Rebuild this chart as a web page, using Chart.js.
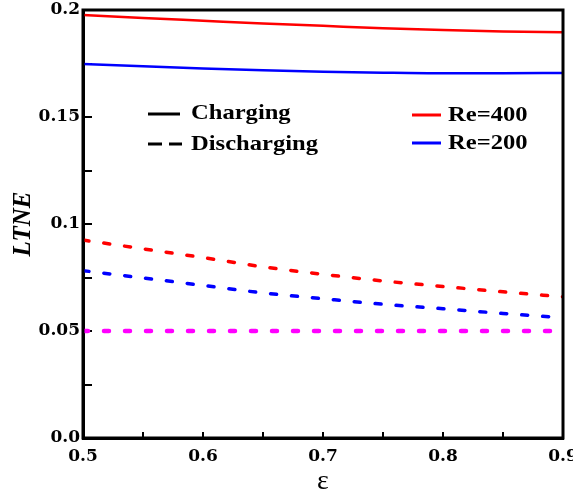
<!DOCTYPE html>
<html>
<head>
<meta charset="utf-8">
<script src="https://cdn.jsdelivr.net/npm/chart.js@4"></script>
<style>
html,body{margin:0;padding:0;background:#fff;}
#wrap{width:573px;height:497px;}
</style>
</head>
<body>
<div id="wrap"><canvas id="c" width="573" height="497"></canvas></div>
<script>
// ---- data ----
const eps = [0.5, 0.55, 0.6, 0.65, 0.7, 0.75, 0.8, 0.85, 0.9];
const chargingRe400 = [0.1977, 0.1963, 0.1950, 0.1937, 0.1926, 0.1915, 0.1906, 0.1900, 0.1896];
const chargingRe200 = [0.1748, 0.1737, 0.1727, 0.1719, 0.1712, 0.1707, 0.1704, 0.1704, 0.1706];
const dischargingRe400 = [0.0925, 0.0884, 0.0843, 0.0800, 0.0765, 0.0734, 0.0708, 0.0683, 0.0660];
const dischargingRe200 = [0.0782, 0.0748, 0.0713, 0.0678, 0.0651, 0.0625, 0.0604, 0.0582, 0.0562];
const reference = [0.05, 0.05, 0.05, 0.05, 0.05, 0.05, 0.05, 0.05, 0.05];

const xTickValues = [0.5, 0.6, 0.7, 0.8, 0.9];
const xTickLabels = ['0.5', '0.6', '0.7', '0.8', '0.9'];
const yTickValues = [0, 0.05, 0.1, 0.15, 0.2];
const yTickLabels = ['0.0', '0.05', '0.1', '0.15', '0.2'];

const legendStyle = ['Charging', 'Discharging'];
const legendSeries = ['Re=400', 'Re=200'];
const xTitle = 'ε';
const yTitle = 'LTNE';

function pts(ys){ return eps.map((x,i)=>({x:x, y:ys[i]})); }
function findLabel(vals, labels, v){
  for (let i=0;i<vals.length;i++) if (Math.abs(vals[i]-v) < 1e-6) return labels[i];
  return '';
}

const SERIF = '"Liberation Serif", "Times New Roman", serif';
const TICKFONT = '"DejaVu Serif", serif';

const framePlugin = {
  id: 'frame',
  afterDraw(chart){
    const ctx = chart.ctx, a = chart.chartArea;
    ctx.save();
    ctx.strokeStyle = '#000';
    ctx.lineWidth = 3;
    ctx.strokeRect(a.left, a.top, a.right - a.left, a.bottom - a.top);
    // legend
    ctx.lineWidth = 3;
    ctx.lineCap = 'butt';
    ctx.strokeStyle = '#000';
    ctx.beginPath(); ctx.moveTo(148, 114); ctx.lineTo(180, 114); ctx.stroke();
    ctx.beginPath(); ctx.moveTo(148, 144); ctx.lineTo(162, 144); ctx.moveTo(169, 144); ctx.lineTo(182, 144); ctx.stroke();
    ctx.strokeStyle = '#ff0000';
    ctx.beginPath(); ctx.moveTo(412, 115); ctx.lineTo(441, 115); ctx.stroke();
    ctx.strokeStyle = '#0000ff';
    ctx.beginPath(); ctx.moveTo(412, 143); ctx.lineTo(441, 143); ctx.stroke();
    ctx.fillStyle = '#000';
    ctx.font = 'bold 21px ' + SERIF;
    ctx.textBaseline = 'alphabetic';
    ctx.textAlign = 'left';
    const drawScaled = (t, x, y) => {
      ctx.save(); ctx.translate(x, y); ctx.scale(1.17, 1); ctx.fillText(t, 0, 0); ctx.restore();
    };
    drawScaled(legendStyle[0], 191, 119);
    drawScaled(legendStyle[1], 191, 150);
    drawScaled(legendSeries[0], 448, 121);
    drawScaled(legendSeries[1], 448, 149);
    ctx.restore();
  }
};

new Chart(document.getElementById('c'), {
  type: 'line',
  data: {
    datasets: [
      {data: pts(chargingRe400), borderColor:'#ff0000', borderWidth:2.5},
      {data: pts(chargingRe200), borderColor:'#0000ff', borderWidth:2.5},
      {data: pts(dischargingRe400), borderColor:'#ff0000', borderWidth:3.5, borderDash:[6,15], borderCapStyle:'round'},
      {data: pts(dischargingRe200), borderColor:'#0000ff', borderWidth:3.5, borderDash:[6,15], borderCapStyle:'round'},
      {data: pts(reference), borderColor:'#ff00ff', borderWidth:4.5, borderDash:[5,16], borderCapStyle:'round'}
    ].map(d => Object.assign({pointRadius:0, fill:false, cubicInterpolationMode:'monotone'}, d))
  },
  options: {
    responsive: false,
    animation: false,
    events: [],
    layout: {padding: {left:0, right:10, top:10, bottom:0}},
    plugins: {legend:{display:false}, tooltip:{enabled:false}},
    scales: {
      x: {
        type: 'linear', min: 0.5, max: 0.9,
        border: {display:true, color:'#000', width:3},
        grid: {display:true, drawOnChartArea:false, drawTicks:true, tickLength:-6, color:'#000', lineWidth:2},
        ticks: {
          stepSize: 0.05, autoSkip:false, maxRotation:0, padding: 14, color:'#000',
          font: {family: TICKFONT, size: 17, weight: 'bold'},
          callback: (v) => findLabel(xTickValues, xTickLabels, v)
        },
        title: {display:true, text:xTitle, color:'#000', padding:0, font:{family:SERIF, size:28, lineHeight:1.1}},
        afterFit(s){ s.height = 59; s.paddingLeft = 0; s.paddingRight = 0; }
      },
      y: {
        type: 'linear', min: 0, max: 0.2,
        border: {display:true, color:'#000', width:3},
        grid: {display:true, drawOnChartArea:false, drawTicks:true, tickLength:-9, color:'#000', lineWidth:2},
        ticks: {
          stepSize: 0.025, autoSkip:false, padding: 12, color:'#000',
          font: {family: TICKFONT, size: 17, weight: 'bold'},
          callback: (v) => findLabel(yTickValues, yTickLabels, v)
        },
        title: {display:true, text:yTitle, color:'#000', padding:{top:9, bottom:0}, font:{family:SERIF, size:25, weight:'bold', style:'italic'}},
        afterFit(s){ s.width = 83; s.paddingTop = 0; s.paddingBottom = 0; }
      }
    }
  },
  plugins: [framePlugin]
});
</script>
</body>
</html>
